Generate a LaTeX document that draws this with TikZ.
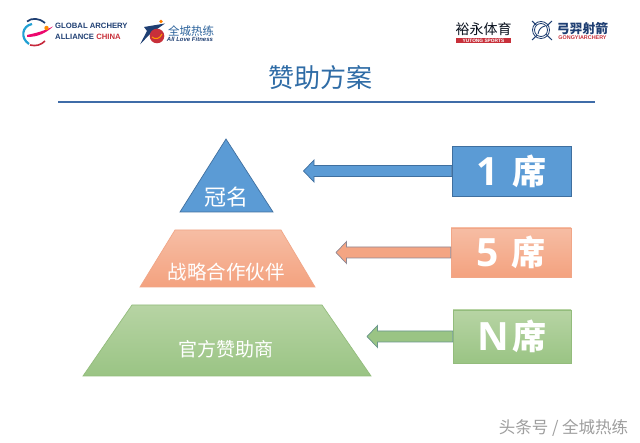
\documentclass[tikz,border=0pt]{standalone}
\usepackage{fontspec}
\usetikzlibrary{calc}
\setmainfont{Liberation Sans}
\newfontfamily\cjk{Noto Sans CJK SC}
\newfontfamily\digits{Open Sans}
\definecolor{titleblue}{HTML}{2F6CA6}
\definecolor{rulecol}{HTML}{3F6CA8}
\definecolor{blueF}{HTML}{5B9BD5}
\definecolor{blueE}{HTML}{3F6F9F}
\definecolor{orangeT}{HTML}{F6BDA4}
\definecolor{orangeB}{HTML}{F4A27F}
\definecolor{orangeE}{HTML}{F1A687}
\definecolor{greenT}{HTML}{B7D4A4}
\definecolor{greenB}{HTML}{9AC484}
\definecolor{greenE}{HTML}{93BC7C}
\definecolor{navy}{HTML}{1F3F73}
\definecolor{logored}{HTML}{C8303A}
\tikzset{
  x=1pt,y=-1pt,
  tier/.style={line width=0.7pt,line join=miter},
  bluefill/.style={fill=blueF,draw=blueE},
  orangefill/.style={top color=orangeT,bottom color=orangeB,draw=orangeE},
  greenfill/.style={top color=greenT,bottom color=greenB,draw=greenE},
  tierlabel/.style={text=white,font=\cjk,inner sep=0pt},
  seatbox/.style={line width=0.7pt,inner sep=0pt,text=white},
  logotext/.style={inner sep=0pt,anchor=west,font=\bfseries\fontsize{7.7}{8}\selectfont,text=navy},
}
% seat label: a large numeral, a gap, then the ideograph
\newcommand{\seatlabel}[2]{{\digits\bfseries\fontsize{39}{40}\selectfont #1}\hspace{#2}{\cjk\bfseries\fontsize{34}{36}\selectfont\raisebox{1pt}{席}}\hspace{9pt}}
% block arrow leaving the west side of a box, pointing to a named tip
\newcommand{\blockarrow}[3]{%
  \draw[#3,line width=0.7pt,line join=miter]
    ($(#1.west)+(0,-5.5)$) -- ($(#2)+(10.5,-5.5)$) -- ($(#2)+(10.5,-11)$) -- (#2)
    -- ($(#2)+(10.5,11)$) -- ($(#2)+(10.5,5.5)$) -- ($(#1.west)+(0,5.5)$) -- cycle;}
\begin{document}
\begin{tikzpicture}
\useasboundingbox (0,0) rectangle (640,443);
\fill[white] (0,0) rectangle (640,443);

% header logo: Global Archery Alliance China
\draw[line width=1.7pt,navy] (27,21.5) .. controls (32,17.5) and (39,18) .. (45,23);
\draw[line width=2.2pt,cyan!70!teal] (32,24) .. controls (22,26) and (20,38) .. (29,44);
\draw[line width=1.6pt,logored!80!purple] (30,45) .. controls (36,46.5) and (41,45) .. (45,41);
\fill[magenta!70!red] (27,35) .. controls (36,33) and (44,31) .. (53,26.5) .. controls (46,33) and (38,37) .. (27,37) -- cycle;
\fill[orange!90!yellow] (46.5,28) circle (2.2);
\node[logotext] (gaa1) at (55,26) {GLOBAL ARCHERY};
\node[logotext] (gaa2) at (55,37) {ALLIANCE \textcolor{logored}{CHINA}};

% header logo: All Love Fitness
\fill[navy] (144,27) -- (165,23.5) -- (150,34) -- (140,44.5) -- (147,31) -- cycle;
\fill[orange] (161,21.5) circle (1.8);
\fill[logored] (157,36) circle (7.3);
\draw[orange!80!yellow,line width=1pt] (152,37) .. controls (155,40) and (160,39) .. (162,34);
\node[inner sep=0pt,text=titleblue!80!navy,font=\cjk\fontsize{11.5}{12}\selectfont] (alf1) at (191,31) {全城热练};
\node[inner sep=0pt,text=navy,font=\bfseries\itshape\fontsize{6}{7}\selectfont] (alf2) at (190,39.3) {All Love Fitness};

% header logo: Yutong Sports
\node[inner sep=0pt,text=black!75!navy,font=\cjk\fontsize{14}{15}\selectfont] (yt1) at (483.5,29.5) {裕永体育};
\node[fill=logored,text=white,inner sep=0pt,minimum width=55.5pt,minimum height=5.5pt,
      font=\bfseries\fontsize{4.8}{5.2}\selectfont] (yt2) at (483.5,40.5) {YUTONG SPORTS};

% header logo: Gongyi Archery
\draw[navy,line width=0.8pt] (541,30) circle (8.5);
\draw[navy,line width=1pt] (532,21) -- (552,40) (552,21) -- (532,40);
\fill[white] (541,30) circle (6.5);
\draw[navy,line width=0.8pt] (541,30) circle (6.5);
\draw[navy,line width=0.9pt] (538,34) .. controls (539,29) and (541,27) .. (545,26);
\node[inner sep=0pt,text=navy,font=\cjk\bfseries\fontsize{12.8}{13}\selectfont] (gy1) at (582.5,29) {弓羿射箭};
\node[inner sep=0pt,text=logored,font=\bfseries\fontsize{5.4}{5.6}\selectfont] (gy2) at (582.5,38) {GONGYIARCHERY};

% slide title and rule
\node[inner sep=0pt,text=titleblue,font=\cjk\fontsize{26}{27}\selectfont] (title) at (320,78) {赞助方案};
\draw[rulecol,line width=1.5pt] (58,102) -- (595,102);

% pyramid tiers
\draw[tier,bluefill] (226,139) -- (273,212) -- (180,212) -- cycle;
\draw[tier,orangefill] (175,230) -- (281,230) -- (315,287) -- (140,287) -- cycle;
\draw[tier,greenfill] (132,305) -- (322,305) -- (371,376) -- (83,376) -- cycle;
\node[tierlabel,font=\cjk\fontsize{22}{24}\selectfont] (crown) at (226,197) {冠名};
\node[tierlabel,font=\cjk\fontsize{19.5}{21}\selectfont] (partner) at (226,272) {战略合作伙伴};
\node[tierlabel,font=\cjk\fontsize{19}{21}\selectfont] (official) at (226,349) {官方赞助商};

% seat count boxes
\node[seatbox,bluefill,minimum width=119pt,minimum height=50pt] (seat1) at (511.5,171) {\seatlabel{1}{13pt}};
\node[seatbox,orangefill,minimum width=120pt,minimum height=49pt] (seat5) at (511,252.5) {\seatlabel{5}{13pt}};
\node[seatbox,greenfill,minimum width=118pt,minimum height=53pt] (seatN) at (512,336.5) {\seatlabel{N}{3pt}};

% arrows from the boxes toward the tiers
\coordinate (tip1) at (303.5,171);
\coordinate (tip5) at (336,252.5);
\coordinate (tipN) at (367,336.5);
\blockarrow{seat1}{tip1}{fill=blueF,draw=blueE}
\blockarrow{seat5}{tip5}{fill=orangeB!90!orangeT,draw=blueE!55!orangeE}
\blockarrow{seatN}{tipN}{fill=greenB,draw=blueE!50!greenE}

% source mark, bottom right
\node[inner sep=0pt,text=black!38,font=\cjk\fontsize{16.5}{17}\selectfont] (mark) at (563.5,428) {头条号 / 全城热练};
\end{tikzpicture}
\end{document}
